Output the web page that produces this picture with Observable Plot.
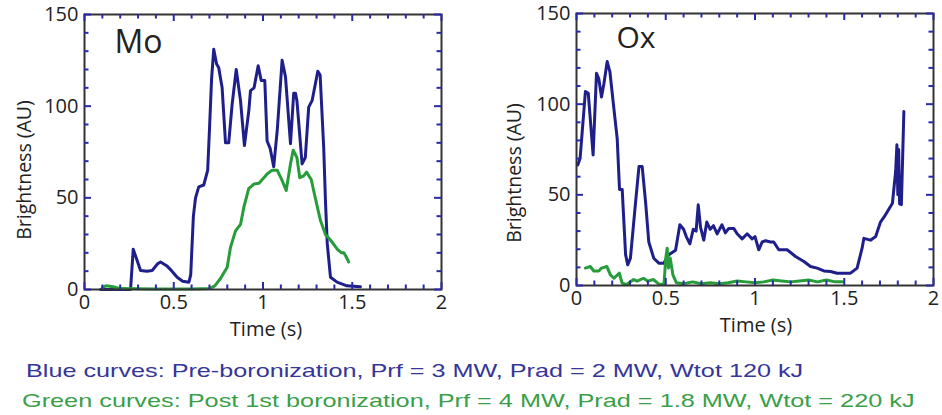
<!DOCTYPE html>
<html>
<head>
<meta charset="utf-8">
<script src="https://cdn.jsdelivr.net/npm/d3@7"></script>
<script src="https://cdn.jsdelivr.net/npm/@observablehq/plot@0.6"></script>
<style>
  html, body { margin: 0; padding: 0; background: #fff; }
  #wrap { position: relative; width: 942px; height: 415px; overflow: hidden; }
  .panel { position: absolute; top: 0; }
  .cap { position: absolute; font-family: "Liberation Sans", Arial, sans-serif; font-size: 19px; white-space: nowrap; transform-origin: 0 50%; }
  .ytitle { position: absolute; font-family: "Open Sans", sans-serif; font-size: 19.5px; color: #222; white-space: nowrap; transform: translate(-50%, -50%) rotate(-90deg); }
</style>
</head>
<body>
<div id="wrap">
  <div id="left" class="panel" style="left:0px"></div>
  <div id="right" class="panel" style="left:470px"></div>
  <div class="ytitle" id="yTitleLeft" style="left:23px; top:170px"></div>
  <div class="ytitle" id="yTitleRight" style="left:513px; top:173px"></div>
  <div class="cap" id="capBlue" style="left:26px; top:360px; color:#35359a; transform: scaleX(1.326)">Blue curves: Pre-boronization, Prf = 3 MW, Prad = 2 MW, Wtot 120 kJ</div>
  <div class="cap" id="capGreen" style="left:22px; top:390px; color:#3a9f48; transform: scaleX(1.33)">Green curves: Post 1st boronization, Prf = 4 MW, Prad = 1.8 MW, Wtot = 220 kJ</div>
</div>
<script>
// ---- Data ----
const moBlueT = [0.09,0.258,0.273,0.314,0.35,0.379,0.41,0.426,0.46,0.49,0.519,0.55,0.585,0.595,0.61,0.622,0.64,0.668,0.69,0.7,0.712,0.724,0.74,0.752,0.771,0.79,0.808,0.827,0.85,0.874,0.896,0.921,0.93,0.95,0.973,0.99,1.01,1.023,1.04,1.06,1.08,1.107,1.126,1.154,1.172,1.182,1.19,1.219,1.237,1.256,1.275,1.307,1.32,1.34,1.35,1.36,1.378,1.415,1.47,1.546];
const moBlueY = [0,0,22,10.4,10,10.4,14,15,13,10,6.7,4.5,4,8,40,50,56,57,65,87,115,131,123,121,110,80,80,101,120,103,78.5,98,108.5,110,122,114,114,81,77,67,87,125,116,79.5,107,107,103,68.5,72,99.5,103,119,117,77.6,48,25,6.7,4,2,1.5];
const moGreenT = [0.1,0.12,0.16,0.2,0.4,0.6,0.7,0.73,0.762,0.78,0.799,0.818,0.846,0.874,0.893,0.92,0.949,0.977,1.005,1.023,1.05,1.08,1.107,1.13,1.154,1.169,1.19,1.206,1.228,1.244,1.27,1.294,1.322,1.35,1.378,1.416,1.44,1.453,1.465,1.48];
const moGreenY = [1,2,1.5,0.5,0.3,0.3,0.5,2,6,9,12,23,32,35.5,45,55,57.5,58,61,63,65,65,59.5,54,68.5,76,72,61,62,64,60,49.5,37.6,30,27,22,20,20,18,15];
const oxBlueT = [0.007,0.02,0.05,0.066,0.093,0.112,0.125,0.14,0.153,0.172,0.187,0.209,0.228,0.241,0.256,0.275,0.287,0.302,0.331,0.35,0.368,0.387,0.405,0.433,0.461,0.489,0.517,0.555,0.579,0.6,0.615,0.635,0.654,0.67,0.682,0.695,0.713,0.73,0.749,0.767,0.788,0.815,0.834,0.853,0.881,0.9,0.928,0.956,0.984,1.0,1.021,1.04,1.059,1.087,1.105,1.133,1.18,1.227,1.274,1.311,1.348,1.386,1.423,1.46,1.497,1.535,1.572,1.6,1.61,1.647,1.676,1.703,1.731,1.77,1.788,1.795,1.8,1.805,1.81,1.815,1.82,1.834];
const oxBlueY = [66.5,70,107,106,72,117,114,104,111,123.5,118,98,81,53,53,17,11.4,15,46,65.6,65.6,46,24,15,12.3,12.3,17,19.5,33.5,31,27,23,31,30,44.5,32,25,35,31,33,28.5,33.5,29,31.5,31.5,28.5,25.7,28.5,25.7,27,19.7,24,24.7,24,24,19.7,19.7,16,13.2,10.5,9.6,8,7.7,6.8,6.8,6.8,9.6,20.6,26,25,27,35,39,45.4,63,77.6,50,75,45,60,44.5,96];
const oxGreenT = [0.05,0.077,0.097,0.125,0.14,0.17,0.19,0.21,0.24,0.255,0.28,0.32,0.34,0.375,0.4,0.43,0.46,0.49,0.5,0.508,0.515,0.525,0.54,0.56,0.6,0.65,0.7,0.75,0.8,0.85,0.9,0.95,1.0,1.05,1.1,1.15,1.2,1.25,1.3,1.35,1.4,1.45,1.49];
const oxGreenY = [9.6,10.5,8,8,9.6,10.5,5.9,4,6.8,1.5,0.5,3.3,2.4,4,2.4,3.3,0.9,0.5,15,20.6,9.6,15,5.9,1.5,1,2,1,1.5,1,1.5,2.5,2,1.5,2,3,2.5,2,2.5,3,2,3,2,2];

const xMajor = [0, 0.5, 1, 1.5, 2];
const xMinor = [0.1,0.2,0.3,0.4,0.6,0.7,0.8,0.9,1.1,1.2,1.3,1.4,1.6,1.7,1.8,1.9];
const yMajor = [0, 50, 100, 150];
const yMinor = [10,20,30,40,60,70,80,90,110,120,130,140];
const xTickLabels = ["0", "0.5", "1", "1.5", "2"];
const panelTitles = ["Mo", "Ox"];
const xTitle = "Time (s)";
const yTitle = "Brightness (AU)";

const X_DOMAIN = [0, 2];
const Y_DOMAIN = [0, 150];
const BLUE = "#1f1f8c";
const GREEN = "#279c3a";
const TICK = "#2a2aa8";
const FRAME = "#333333";

document.getElementById("yTitleLeft").textContent = yTitle;
document.getElementById("yTitleRight").textContent = yTitle;

function series(ts, ys) { return ts.map((t, i) => ({t, v: ys[i]})); }

function panel({width, height, ml, mr, mt, mb, blue, green, title, titleSize, titleDx, titleDy, xPad, xTitleDx, xTitleDy}) {
  const innerH = height - mt - mb;
  const innerW = width - ml - mr;
  // tick lengths expressed in data units (pixel length / scale span)
  const yPer = (Y_DOMAIN[1] - Y_DOMAIN[0]) / innerH;
  const xPer = (X_DOMAIN[1] - X_DOMAIN[0]) / innerW;
  const tk = {stroke: TICK, strokeWidth: 2};
  const [x0, x1] = X_DOMAIN, [y0, y1] = Y_DOMAIN;
  const MAJ = 7, MIN = 4.5;
  return Plot.plot({
    width, height,
    marginLeft: ml, marginRight: mr, marginTop: mt, marginBottom: mb,
    style: {fontFamily: "'Open Sans', sans-serif", fontSize: "20px", color: "#222", background: "transparent", overflow: "visible"},
    x: {domain: X_DOMAIN},
    y: {domain: Y_DOMAIN},
    marks: [
      Plot.line(blue, {x: "t", y: "v", stroke: BLUE, strokeWidth: 3, strokeLinejoin: "round"}),
      Plot.line(green, {x: "t", y: "v", stroke: GREEN, strokeWidth: 3, strokeLinejoin: "round"}),
      Plot.frame({stroke: FRAME, strokeWidth: 2}),
      // inward ticks on all four sides
      Plot.ruleX(xMajor, {x: d => d, y1: y0, y2: y0 + MAJ * yPer, ...tk}),
      Plot.ruleX(xMinor, {x: d => d, y1: y0, y2: y0 + MIN * yPer, ...tk}),
      Plot.ruleX(xMajor, {x: d => d, y1: y1, y2: y1 - MAJ * yPer, ...tk}),
      Plot.ruleX(xMinor, {x: d => d, y1: y1, y2: y1 - MIN * yPer, ...tk}),
      Plot.ruleY(yMajor, {y: d => d, x1: x0, x2: x0 + MAJ * xPer, ...tk}),
      Plot.ruleY(yMinor, {y: d => d, x1: x0, x2: x0 + MIN * xPer, ...tk}),
      Plot.ruleY(yMajor, {y: d => d, x1: x1, x2: x1 - MAJ * xPer, ...tk}),
      Plot.ruleY(yMinor, {y: d => d, x1: x1, x2: x1 - MIN * xPer, ...tk}),
      Plot.axisX(xMajor, {tickSize: 0, tickPadding: xPad, tickFormat: (d, i) => xTickLabels[i], label: null}),
      Plot.axisY(yMajor, {tickSize: 0, tickPadding: 6, label: null}),
      Plot.text([xTitle], {text: d => d, frameAnchor: "bottom", dx: xTitleDx, dy: xTitleDy, fontSize: 20, fill: "#222", lineAnchor: "middle"}),
      Plot.text([title], {text: d => d, frameAnchor: "top-left", dx: titleDx, dy: titleDy, fontSize: titleSize, fill: "#222", textAnchor: "start", lineAnchor: "top"})
    ]
  });
}

document.getElementById("left").append(panel({
  width: 470, height: 340, ml: 84, mr: 29, mt: 14, mb: 51,
  blue: series(moBlueT, moBlueY), green: series(moGreenT, moGreenY),
  title: panelTitles[0], titleSize: 32, titleDx: 30, titleDy: 16,
  xPad: 5, xTitleDx: 3, xTitleDy: 40
}));
document.getElementById("right").append(panel({
  width: 472, height: 340, ml: 106, mr: 9, mt: 13, mb: 55,
  blue: series(oxBlueT, oxBlueY), green: series(oxGreenT, oxGreenY),
  title: panelTitles[1], titleSize: 30, titleDx: 40, titleDy: 13,
  xPad: 5, xTitleDx: 1, xTitleDy: 40
}));
</script>
</body>
</html>
